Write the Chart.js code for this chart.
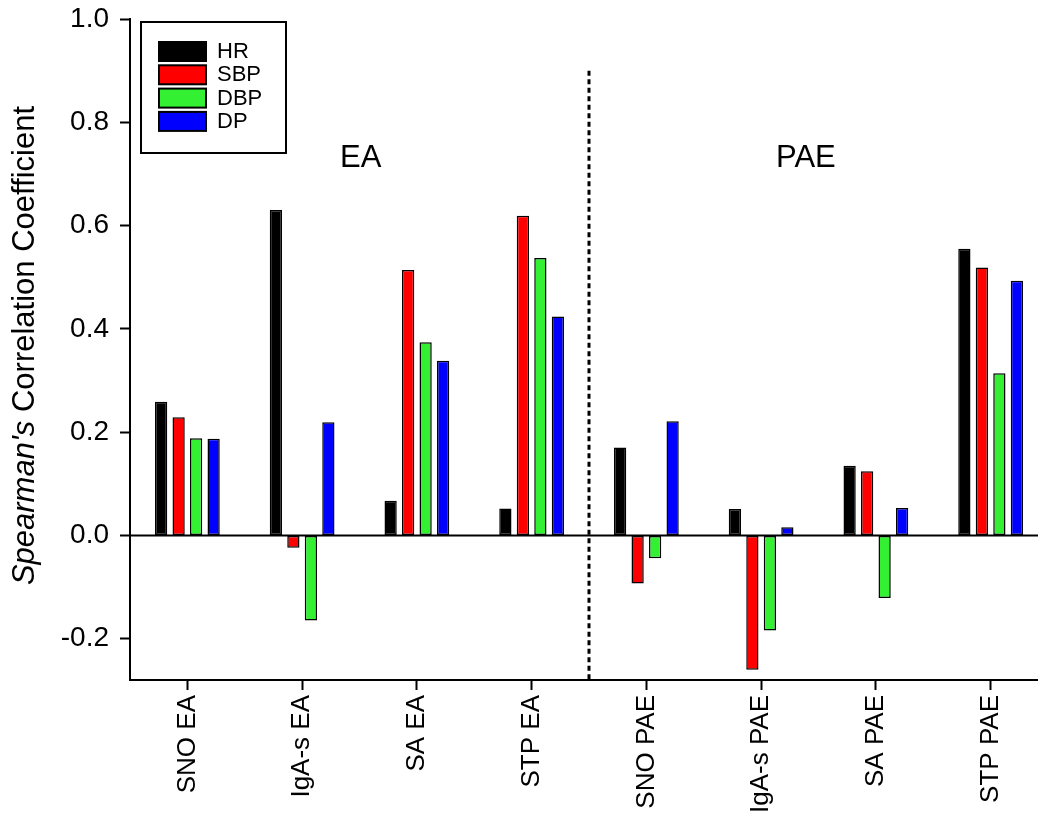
<!DOCTYPE html>
<html>
<head>
<meta charset="utf-8">
<script src="https://cdn.jsdelivr.net/npm/chart.js@4.4.1/dist/chart.umd.min.js"></script>
<style>
  html, body { margin: 0; padding: 0; background: #fff; overflow: hidden; }
  #wrap { width: 1048px; height: 818px; }
</style>
</head>
<body>
<div id="wrap"><canvas id="c" width="1048" height="818"></canvas></div>
<script>
// Spearman correlation of salivary markers with cardiovascular measures
const categories = ['SNO EA', 'IgA-s EA', 'SA EA', 'STP EA', 'SNO PAE', 'IgA-s PAE', 'SA PAE', 'STP PAE'];
const seriesNames = ['HR', 'SBP', 'DBP', 'DP'];
const hrValues  = [0.259, 0.630, 0.067, 0.052, 0.170, 0.051, 0.135, 0.555];
const sbpValues = [0.229, -0.024, 0.514, 0.619, -0.093, -0.260, 0.124, 0.519];
const dbpValues = [0.188, -0.165, 0.374, 0.537, -0.044, -0.184, -0.121, 0.314];
const dpValues  = [0.187, 0.219, 0.338, 0.424, 0.221, 0.016, 0.053, 0.493];
const seriesColors = ['#000000', '#ff0000', '#33f033', '#0000ff'];
const yTickValues = [-0.2, 0.0, 0.2, 0.4, 0.6, 0.8, 1.0];
const groupLabels = ['EA', 'PAE'];

const FONT = "'Liberation Sans', Arial, Helvetica, sans-serif";

const seriesValues = [hrValues, sbpValues, dbpValues, dpValues];
const datasets = seriesNames.map((name, i) => ({
  label: name,
  data: seriesValues[i],
  backgroundColor: seriesColors[i],
  borderColor: '#000000',
  borderWidth: 1.5,
  borderSkipped: false,
  categoryPercentage: 0.61,
  barPercentage: 0.7
}));

// zero line, divider, group captions, legend box and y-axis title
const decorations = {
  id: 'decorations',
  beforeDatasetsDraw(chart) {
    const { ctx, chartArea: a, scales: { y } } = chart;
    ctx.save();
    ctx.strokeStyle = '#000';
    ctx.lineWidth = 2;
    ctx.beginPath();
    ctx.moveTo(a.left, y.getPixelForValue(0));
    ctx.lineTo(a.right, y.getPixelForValue(0));
    ctx.stroke();
    ctx.restore();
  },
  afterDatasetsDraw(chart) {
    const { ctx, chartArea: a, scales: { x, y } } = chart;
    ctx.save();

    // dashed divider between the two phases
    const xd = x.getPixelForValue(3.5);
    ctx.strokeStyle = '#000';
    ctx.lineWidth = 3;
    ctx.setLineDash([5, 3.5]);
    ctx.beginPath();
    ctx.moveTo(xd, y.getPixelForValue(0.9));
    ctx.lineTo(xd, a.bottom);
    ctx.stroke();
    ctx.setLineDash([]);

    // phase captions
    ctx.fillStyle = '#000';
    ctx.font = '31px ' + FONT;
    ctx.textAlign = 'center';
    ctx.textBaseline = 'alphabetic';
    ctx.fillText(groupLabels[0], x.getPixelForValue(1.51), y.getPixelForValue(0.714));
    ctx.fillText(groupLabels[1], x.getPixelForValue(5.39), y.getPixelForValue(0.714));

    // legend box
    const bx = a.left + 11, by = a.top + 3, bw = 145, bh = 131;
    ctx.lineWidth = 2;
    ctx.strokeStyle = '#000';
    ctx.fillStyle = '#fff';
    ctx.fillRect(bx, by, bw, bh);
    ctx.strokeRect(bx, by, bw, bh);
    ctx.font = '22px ' + FONT;
    ctx.textAlign = 'left';
    ctx.textBaseline = 'middle';
    chart.data.datasets.forEach((ds, i) => {
      const sy = by + 20 + i * 23.3;
      ctx.fillStyle = ds.backgroundColor;
      ctx.fillRect(bx + 18, sy, 47, 19);
      ctx.lineWidth = 2;
      ctx.strokeStyle = '#000';
      ctx.strokeRect(bx + 18, sy, 47, 19);
      ctx.fillStyle = '#000';
      ctx.fillText(ds.label, bx + 76, sy + 10);
    });

    // y-axis title with italic name
    const part1 = "Spearman's", part2 = ' Correlation Coefficient';
    const f1 = 'italic 31px ' + FONT, f2 = '31px ' + FONT;
    ctx.font = f1; const w1 = ctx.measureText(part1).width;
    ctx.font = f2; const w2 = ctx.measureText(part2).width;
    const cy = (a.top + a.bottom) / 2 - 4;
    ctx.translate(34, cy);
    ctx.rotate(-Math.PI / 2);
    ctx.textAlign = 'left';
    ctx.textBaseline = 'alphabetic';
    ctx.fillStyle = '#000';
    const start = -(w1 + w2) / 2;
    ctx.font = f1; ctx.fillText(part1, start, 0);
    ctx.font = f2; ctx.fillText(part2, start + w1, 0);
    ctx.restore();
  }
};

new Chart(document.getElementById('c'), {
  type: 'bar',
  data: { labels: categories, datasets },
  options: {
    responsive: false,
    animation: false,
    devicePixelRatio: 1,
    layout: { padding: { top: 19, left: 0, right: 0, bottom: 0 } },
    plugins: { legend: { display: false }, tooltip: { enabled: false } },
    scales: {
      x: {
        offset: true,
        grid: { display: true, offset: false, drawOnChartArea: false, tickLength: 10, tickColor: '#000', tickWidth: 2 },
        border: { display: true, color: '#000', width: 2 },
        ticks: {
          color: '#000',
          font: { family: FONT, size: 26 },
          minRotation: 90,
          maxRotation: 90,
          autoSkip: false,
          padding: 5
        },
        afterFit(scale) { scale.height = 138; }
      },
      y: {
        min: -0.28,
        max: 1.0,
        grid: { display: true, drawOnChartArea: false, tickLength: 10, tickColor: '#000', tickWidth: 2 },
        border: { display: true, color: '#000', width: 2 },
        afterBuildTicks(scale) { scale.ticks = yTickValues.map(v => ({ value: v })); },
        ticks: {
          color: '#000',
          font: { family: FONT, size: 28 },
          padding: 11,
          callback: v => Number(v).toFixed(1)
        },
        afterFit(scale) {
          scale.width = 130;
          scale.paddingTop = 0;
          scale.paddingBottom = 0;
        }
      }
    }
  },
  plugins: [decorations]
});
</script>
</body>
</html>
